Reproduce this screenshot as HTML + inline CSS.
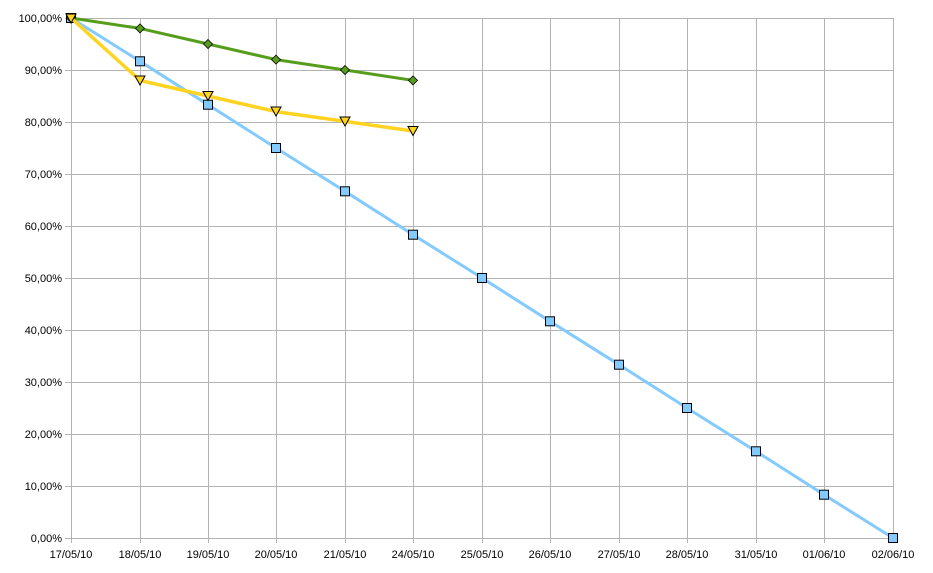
<!DOCTYPE html>
<html><head><meta charset="utf-8"><style>
html,body{margin:0;padding:0;background:#fff;}
svg{display:block;}
text{font-family:"Liberation Sans",Arial,sans-serif;font-size:11px;fill:#000;}
</style></head><body>
<svg width="933" height="573" viewBox="0 0 933 573" xmlns="http://www.w3.org/2000/svg">
<g stroke="#b3b3b3" stroke-width="1" fill="none" shape-rendering="crispEdges">
<line x1="65" y1="18.5" x2="893" y2="18.5"/>
<line x1="65" y1="70.5" x2="893" y2="70.5"/>
<line x1="65" y1="122.5" x2="893" y2="122.5"/>
<line x1="65" y1="174.5" x2="893" y2="174.5"/>
<line x1="65" y1="226.5" x2="893" y2="226.5"/>
<line x1="65" y1="278.5" x2="893" y2="278.5"/>
<line x1="65" y1="330.5" x2="893" y2="330.5"/>
<line x1="65" y1="382.5" x2="893" y2="382.5"/>
<line x1="65" y1="434.5" x2="893" y2="434.5"/>
<line x1="65" y1="486.5" x2="893" y2="486.5"/>
<line x1="65" y1="538.5" x2="893" y2="538.5"/>
<line x1="71.5" y1="18" x2="71.5" y2="543"/>
<line x1="140.5" y1="18" x2="140.5" y2="543"/>
<line x1="208.5" y1="18" x2="208.5" y2="543"/>
<line x1="276.5" y1="18" x2="276.5" y2="543"/>
<line x1="345.5" y1="18" x2="345.5" y2="543"/>
<line x1="413.5" y1="18" x2="413.5" y2="543"/>
<line x1="482.5" y1="18" x2="482.5" y2="543"/>
<line x1="550.5" y1="18" x2="550.5" y2="543"/>
<line x1="619.5" y1="18" x2="619.5" y2="543"/>
<line x1="687.5" y1="18" x2="687.5" y2="543"/>
<line x1="756.5" y1="18" x2="756.5" y2="543"/>
<line x1="824.5" y1="18" x2="824.5" y2="543"/>
<line x1="893.5" y1="18" x2="893.5" y2="543"/>
</g>
<g text-anchor="end">
<text x="62" y="22">100,00%</text>
<text x="62" y="74">90,00%</text>
<text x="62" y="126">80,00%</text>
<text x="62" y="178">70,00%</text>
<text x="62" y="230">60,00%</text>
<text x="62" y="282">50,00%</text>
<text x="62" y="334">40,00%</text>
<text x="62" y="386">30,00%</text>
<text x="62" y="438">20,00%</text>
<text x="62" y="490">10,00%</text>
<text x="62" y="542">0,00%</text>
</g>
<g text-anchor="middle">
<text x="71" y="558">17/05/10</text>
<text x="140" y="558">18/05/10</text>
<text x="208" y="558">19/05/10</text>
<text x="276" y="558">20/05/10</text>
<text x="345" y="558">21/05/10</text>
<text x="413" y="558">24/05/10</text>
<text x="482" y="558">25/05/10</text>
<text x="550" y="558">26/05/10</text>
<text x="619" y="558">27/05/10</text>
<text x="687" y="558">28/05/10</text>
<text x="756" y="558">31/05/10</text>
<text x="824" y="558">01/06/10</text>
<text x="893" y="558">02/06/10</text>
</g>
<!-- blue -->
<polyline fill="none" stroke="#83caff" stroke-width="3" stroke-linejoin="round"
points="71,18 140,61.3 208,104.7 276,148 345,191.3 413,234.7 482,278 550,321.3 619,364.7 687,408 756,451.3 824,494.7 893,538"/>
<g fill="#83caff" stroke="#000" stroke-width="1">
<rect x="66.5" y="13.5" width="9" height="9"/>
<rect x="135.5" y="56.8" width="9" height="9"/>
<rect x="203.5" y="100.2" width="9" height="9"/>
<rect x="271.5" y="143.5" width="9" height="9"/>
<rect x="340.5" y="186.8" width="9" height="9"/>
<rect x="408.5" y="230.2" width="9" height="9"/>
<rect x="477.5" y="273.5" width="9" height="9"/>
<rect x="545.5" y="316.8" width="9" height="9"/>
<rect x="614.5" y="360.2" width="9" height="9"/>
<rect x="682.5" y="403.5" width="9" height="9"/>
<rect x="751.5" y="446.8" width="9" height="9"/>
<rect x="819.5" y="490.2" width="9" height="9"/>
<rect x="888.5" y="533.5" width="9" height="9"/>
</g>
<!-- green -->
<polyline fill="none" stroke="#579d1c" stroke-width="3" stroke-linejoin="round"
points="71,18 140,28.4 208,44 276,59.6 345,70 413,80.4"/>
<g fill="#579d1c" stroke="#000" stroke-width="0.8">
<polygon points="71,13.5 75.5,18 71,22.5 66.5,18"/>
<polygon points="140,23.9 144.5,28.4 140,32.9 135.5,28.4"/>
<polygon points="208,39.5 212.5,44 208,48.5 203.5,44"/>
<polygon points="276,55.1 280.5,59.6 276,64.1 271.5,59.6"/>
<polygon points="345,65.5 349.5,70 345,74.5 340.5,70"/>
<polygon points="413,75.9 417.5,80.4 413,84.9 408.5,80.4"/>
</g>
<!-- yellow -->
<polyline fill="none" stroke="#ffd320" stroke-width="3.5" stroke-linejoin="round"
points="71,18 140,80.4 208,96 276,111.6 345,121.4 413,131"/>
<g fill="#ffd320" stroke="#000" stroke-width="1">
<polygon points="66,14 76,14 71,23"/>
<polygon points="135,76 145,76 140,85"/>
<polygon points="203,91.5 213,91.5 208,100.5"/>
<polygon points="271,107 281,107 276,116"/>
<polygon points="340,117 350,117 345,126"/>
<polygon points="408,126.5 418,126.5 413,135.5"/>
</g>
</svg>
</body></html>
